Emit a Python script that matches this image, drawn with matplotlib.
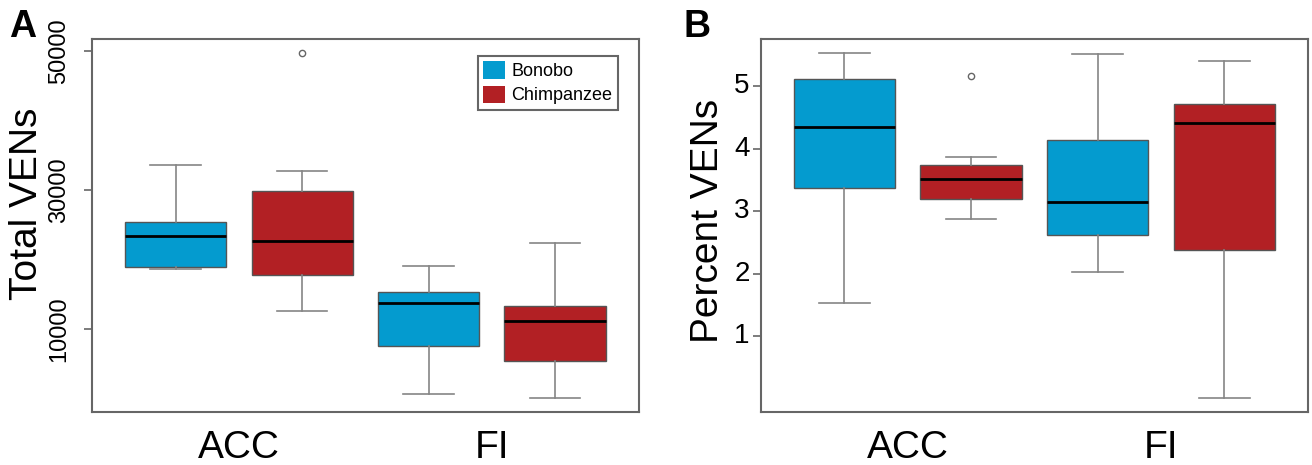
import numpy as np
import matplotlib
matplotlib.use('Agg')
import matplotlib.pyplot as plt
import matplotlib.patches as mpatches

plt.rcParams['font.family'] = ['Liberation Sans', 'DejaVu Sans']

regions = ['ACC', 'FI']
species = ['Bonobo', 'Chimpanzee']
colors = ['#049bcf', '#b22024']

# order: Bonobo ACC, Chimp ACC, Bonobo FI, Chimp FI
# (whislo, q1, med, q3, whishi)
total_stats = [
    (18700, 18930, 23400, 25410, 33580),
    (12550, 17730, 22720, 29930, 32760),
    (640, 7550, 13700, 15330, 19030),
    (12, 5390, 11200, 13270, 22390),
]
total_fliers = [[], [49760], [], []]
total_ticks = [10000, 30000, 50000]

percent_stats = [
    (1.53, 3.37, 4.34, 5.12, 5.53),
    (2.88, 3.19, 3.51, 3.74, 3.86),
    (2.02, 2.61, 3.14, 4.14, 5.51),
    (0.0, 2.38, 4.41, 4.71, 5.41),
]
percent_fliers = [[], [5.17], [], []]
percent_ticks = [1, 2, 3, 4, 5]

W, H = 1312, 465
fig = plt.figure(figsize=(W / 100, H / 100), dpi=100)

def make_stats(stats, fliers):
    out = []
    for s, f in zip(stats, fliers):
        out.append(dict(whislo=s[0], q1=s[1], med=s[2], q3=s[3], whishi=s[4], fliers=f))
    return out

def draw_panel(ax, stats, fliers, ticks, rot, tick_size, tick_pad):
    bp = ax.bxp(make_stats(stats, fliers), positions=[1, 2, 3, 4], widths=0.8,
                patch_artist=True, showfliers=True,
                boxprops=dict(edgecolor='#555555', linewidth=1.0),
                whiskerprops=dict(color='#858585', linewidth=1.2, linestyle='-'),
                capprops=dict(color='#858585', linewidth=1.2),
                medianprops=dict(color='black', linewidth=2.0),
                flierprops=dict(marker='o', markersize=4.5, markerfacecolor='none',
                                markeredgecolor='#666666', markeredgewidth=1.0))
    for i, box in enumerate(bp['boxes']):
        box.set_facecolor(colors[i % 2])
    for cap in bp['caps']:
        x = cap.get_xdata()
        c = (x[0] + x[1]) / 2
        cap.set_xdata([c - 0.2, c + 0.2])
    ax.set_xlim(0.34, 4.66)
    all_lo = [s[0] for s in stats] + sum(fliers, [])
    all_hi = [s[4] for s in stats] + sum(fliers, [])
    lo, hi = min(all_lo), max(all_hi)
    span = hi - lo
    ax.set_ylim(lo - 0.04 * span, hi + 0.04 * span)
    ax.set_yticks(ticks)
    ax.set_yticklabels([str(t) for t in ticks], rotation=rot, va='center',
                       fontsize=tick_size)
    ax.tick_params(axis='y', length=6, width=1.2, color='#666666', pad=tick_pad)
    ax.set_xticks([1.5, 3.5])
    ax.set_xticklabels(regions, fontsize=28)
    ax.tick_params(axis='x', length=0, pad=13)
    for sp in ax.spines.values():
        sp.set_color('#666666')
        sp.set_linewidth(1.5)

axA = fig.add_axes([92.3 / W, 1 - 412.3 / H, 546.2 / W, 373 / H])
draw_panel(axA, total_stats, total_fliers, total_ticks, 90, 17, 10)
fig.text(27.5 / W, 1 - 204 / H, 'Total VENs', rotation=90, fontsize=28,
         ha='center', va='center')
fig.text(23 / W, 1 - 27 / H, 'A', fontsize=27, fontweight='bold', ha='center', va='center')

axB = fig.add_axes([760.7 / W, 1 - 412.3 / H, 547.3 / W, 373 / H])
draw_panel(axB, percent_stats, percent_fliers, percent_ticks, 0, 20, 2)
fig.text(708 / W, 1 - 221 / H, 'Percent VENs', rotation=90, fontsize=28,
         ha='center', va='center')
fig.text(697 / W, 1 - 27 / H, 'B', fontsize=27, fontweight='bold', ha='center', va='center')

handles = [mpatches.Patch(facecolor=c, edgecolor='none', label=s)
           for c, s in zip(colors, species)]
leg = axA.legend(handles=handles, loc='upper right',
                 bbox_to_anchor=(617.7 / W, 1 - 56 / H), bbox_transform=fig.transFigure,
                 borderaxespad=0, fontsize=13, handlelength=1.2, handleheight=1.1,
                 handletextpad=0.35, labelspacing=0.3, borderpad=0.3,
                 fancybox=False, framealpha=1)
leg.get_frame().set_edgecolor('#666666')
leg.get_frame().set_linewidth(1.5)

fig.savefig('out.png', dpi=100)
